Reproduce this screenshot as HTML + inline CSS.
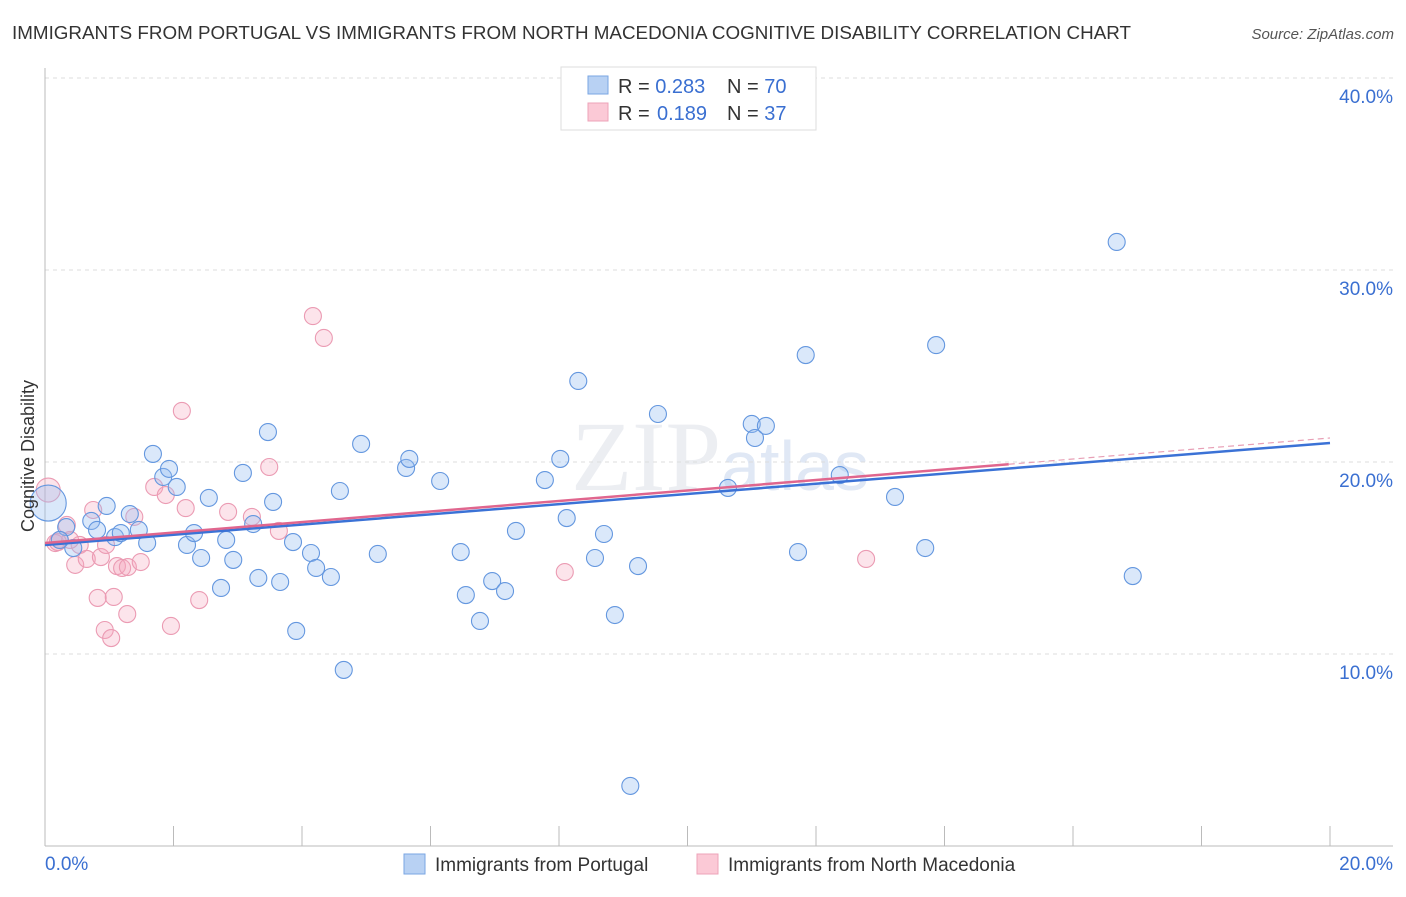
<!DOCTYPE html>
<html><head><meta charset="utf-8"><style>
body{margin:0;background:#fff;font-family:"Liberation Sans",sans-serif;}
</style></head><body>
<svg id="chart" width="1406" height="892" xmlns="http://www.w3.org/2000/svg" style="font-family:'Liberation Sans',sans-serif">
<text x="12" y="39" font-size="18.5" fill="#333" textLength="1119" lengthAdjust="spacingAndGlyphs">IMMIGRANTS FROM PORTUGAL VS IMMIGRANTS FROM NORTH MACEDONIA COGNITIVE DISABILITY CORRELATION CHART</text>
<text x="1394" y="39" font-size="15" fill="#555" font-style="italic" text-anchor="end">Source: ZipAtlas.com</text>
<text x="720" y="490" font-size="100" fill="#eceef2" text-anchor="middle" font-family="Liberation Serif,serif">ZIP<tspan font-family="Liberation Sans,sans-serif" font-size="70" fill="#e0e8f5">atlas</tspan></text>
<g id="grid"></g><g id="axes"></g><g id="pts"></g><g id="lines"></g>
<text transform="translate(34,456) rotate(-90)" font-size="18" fill="#333" text-anchor="middle">Cognitive Disability</text>
<g>
<rect x="561" y="67" width="255" height="63" fill="#fff" stroke="#ddd"/>
<rect x="588" y="76" width="20" height="18" fill="#b8d1f3" stroke="#7aa6e3"/>
<rect x="588" y="103" width="20" height="18" fill="#fbc9d6" stroke="#eea3b8"/>
<text x="618" y="93" font-size="20" fill="#333">R = <tspan fill="#3a6fd1">0.283</tspan><tspan x="727">N = </tspan><tspan fill="#3a6fd1">70</tspan></text>
<text x="618" y="120" font-size="20" fill="#333">R = <tspan x="657" fill="#3a6fd1">0.189</tspan><tspan x="727">N = </tspan><tspan fill="#3a6fd1">37</tspan></text>
</g>
<g>
<rect x="404" y="854" width="21" height="20" fill="#b8d1f3" stroke="#7aa6e3"/>
<text x="435" y="871" font-size="19" fill="#333">Immigrants from Portugal</text>
<rect x="697" y="854" width="21" height="20" fill="#fbc9d6" stroke="#eea3b8"/>
<text x="728" y="871" font-size="19" fill="#333">Immigrants from North Macedonia</text>
</g>
</svg>
<script>
const blueX=[0.05,0.33,0.44,0.72,0.81,0.96,1.09,1.18,1.32,1.46,1.59,1.68,1.84,1.93,2.05,2.21,2.32,2.43,2.55,2.74,2.82,2.93,3.08,3.24,3.32,3.47,3.55,3.66,3.86,3.91,4.14,4.22,4.45,4.59,4.65,4.92,5.18,5.62,5.67,6.15,6.47,6.55,6.77,6.96,7.16,7.33,7.78,8.02,8.12,8.30,8.56,8.70,8.87,9.11,9.23,9.54,10.63,11.00,11.05,11.22,11.72,11.84,12.37,13.23,13.70,13.87,16.68,16.93,0.23];
const blueY=[17.86,16.61,15.52,16.93,16.46,17.71,16.09,16.30,17.29,16.46,15.78,20.42,19.22,19.64,18.70,15.68,16.30,15.0,18.13,13.44,15.94,14.90,19.43,16.77,13.96,21.56,17.92,13.75,15.83,11.20,15.26,14.48,14.01,18.49,9.17,20.94,15.21,19.69,20.16,19.01,15.31,13.07,11.72,13.80,13.28,16.41,19.06,20.16,17.08,24.22,15.0,16.25,12.03,3.13,14.58,22.5,18.65,21.98,21.25,21.88,15.31,25.57,19.32,18.18,15.52,26.09,31.46,14.06,15.94];
const pinkX=[0.05,0.16,0.23,0.34,0.47,0.54,0.65,0.75,0.87,0.93,0.82,1.03,1.07,1.12,1.20,1.29,1.28,1.39,1.49,1.70,1.88,1.96,2.13,2.19,2.40,2.85,3.22,3.49,3.64,4.17,4.34,8.09,12.78,0.95,0.39,0.20];
const pinkY=[18.54,15.78,15.94,16.72,14.64,15.68,14.95,17.50,15.05,11.25,12.92,10.83,12.97,14.58,14.48,14.53,12.08,17.14,14.79,18.70,18.28,11.46,22.66,17.60,12.81,17.40,17.14,19.74,16.41,27.60,26.46,14.27,14.95,15.68,15.94,15.83];
const trendBlue=[15.68,20.99];
const trendPink=[15.78,21.25];
const pinkSolidEnd=15.0;
const yTicks=[10,20,30,40];
const xTickLabels=["0.0%","20.0%"];
const NS="http://www.w3.org/2000/svg";
const X=v=>45+v*64.25, Y=v=>846-v*19.2;
function mk(t,a,p){const e=document.createElementNS(NS,t);for(const k in a)e.setAttribute(k,a[k]);p.appendChild(e);return e;}
const grid=document.getElementById('grid'),axes=document.getElementById('axes'),pts=document.getElementById('pts'),lines=document.getElementById('lines');
yTicks.forEach(t=>{
 const l=mk('line',{x1:45,x2:1393,y1:Y(t),y2:Y(t),stroke:'#ddd','stroke-dasharray':'4,4'},grid);
 
 
 const tx=mk('text',{x:1393,y:Y(t)+25,'font-size':19,fill:'#3a6fd1','text-anchor':'end'},axes);
 tx.textContent=t.toFixed(1)+'%';
 
 
});
mk('line',{x1:45,x2:45,y1:68,y2:846,stroke:'#bbb'},axes);
mk('line',{x1:45,x2:1393,y1:846,y2:846,stroke:'#bbb'},axes);
for(let i=1;i<=10;i++){mk('line',{x1:X(i*2),x2:X(i*2),y1:826,y2:846,stroke:'#bbb'},axes);}
[[0,'start',45],[20,'end',1393]].forEach((d,i)=>{const tx=mk('text',{x:d[2],y:870,'font-size':19,fill:'#3a6fd1','text-anchor':d[1]},axes);tx.textContent=xTickLabels[i];

});
function dots(xs,ys,fill,stroke,name){xs.forEach((x,i)=>{const r=i===0?(name==='blue-point'?18:12):8.5;
 const c=mk('circle',{cx:X(x),cy:Y(ys[i]),r:r,fill:fill,stroke:stroke,'stroke-width':1.1},pts);
 
 });}
dots(pinkX,pinkY,'rgba(245,165,190,0.3)','#eb9bb3','pink-point');
dots(blueX,blueY,'rgba(150,190,240,0.35)','#6497df','blue-point');
const bl=mk('line',{x1:X(0),y1:Y(trendBlue[0]),x2:X(20),y2:Y(trendBlue[1]),stroke:'#3b72d6','stroke-width':2.5},lines);


const pe=trendPink[0]+(trendPink[1]-trendPink[0])*pinkSolidEnd/20;
const pl=mk('line',{x1:X(0),y1:Y(trendPink[0]),x2:X(pinkSolidEnd),y2:Y(pe),stroke:'#e0668e','stroke-width':2.5},lines);


const pd=mk('line',{x1:X(pinkSolidEnd),y1:Y(pe),x2:X(20),y2:Y(trendPink[1]),stroke:'#e8a0b6','stroke-width':1.2,'stroke-dasharray':'6,4'},lines);


</script>
</body></html>
